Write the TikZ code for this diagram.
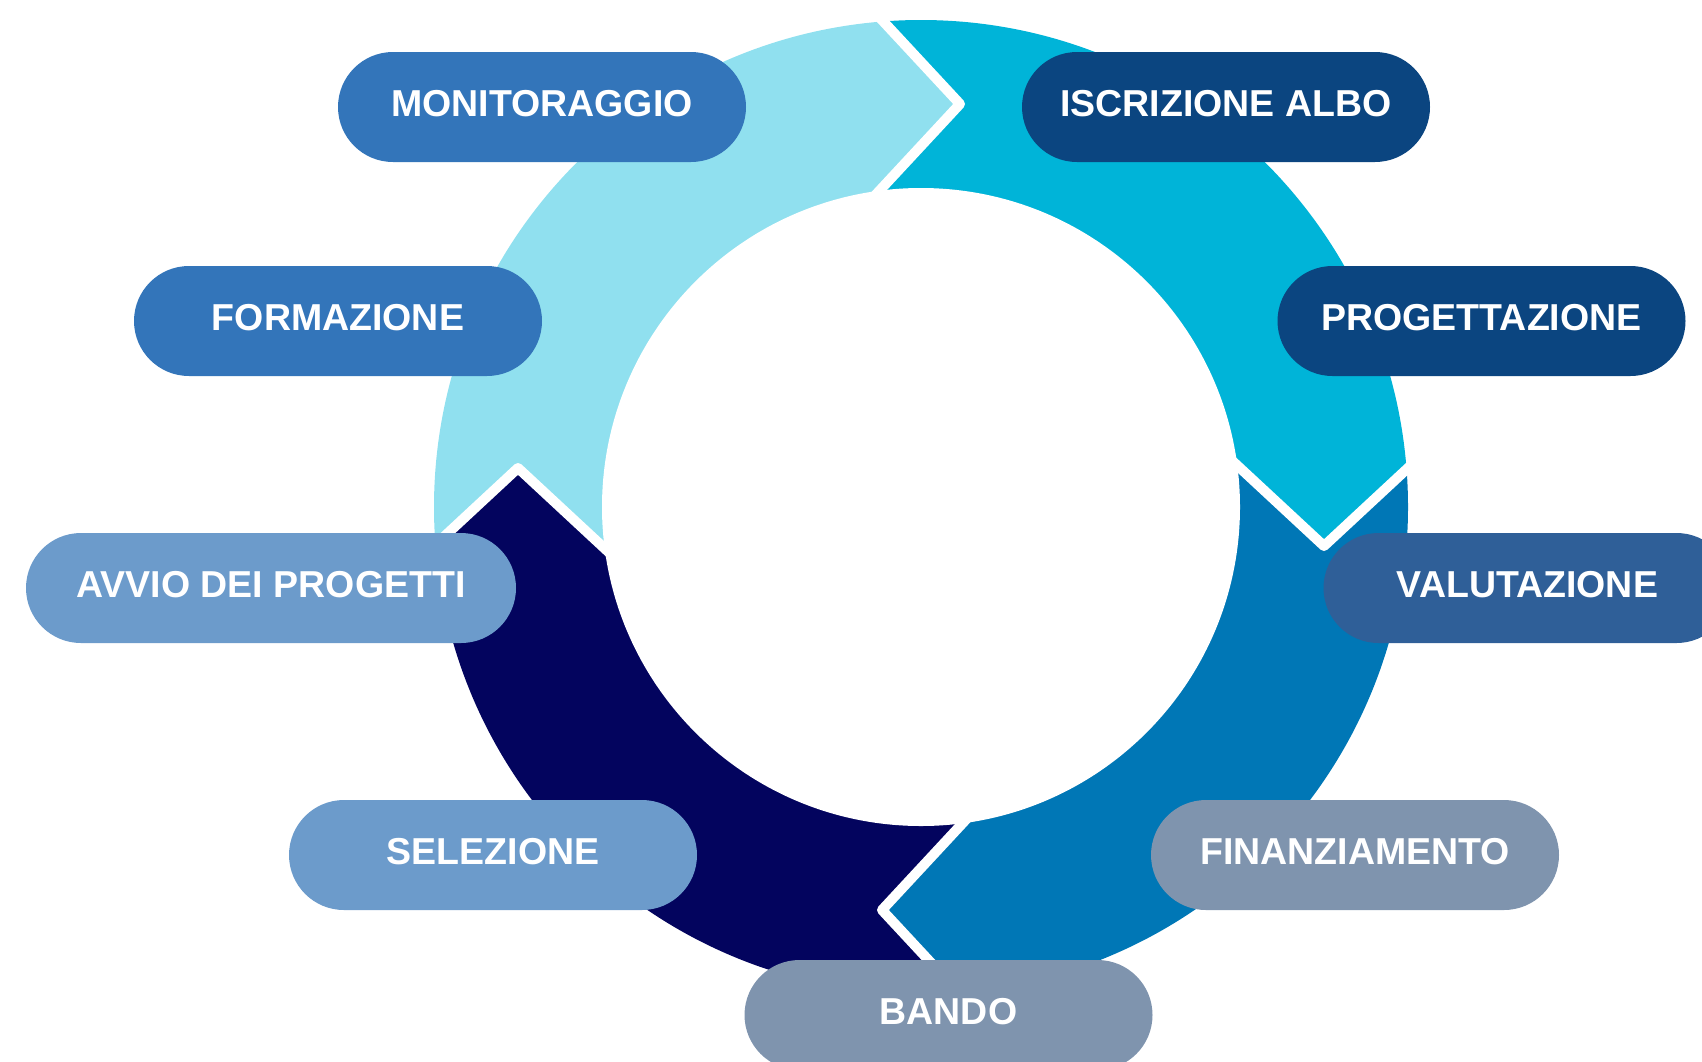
\documentclass[tikz,border=0pt]{standalone}
\usepackage{fontspec}
\setmainfont{Liberation Sans}
\usetikzlibrary{shapes.misc}
\definecolor{segA}{HTML}{90E0EF}
\definecolor{segB}{HTML}{00B4D8}
\definecolor{segC}{HTML}{0077B6}
\definecolor{segD}{HTML}{03045E}
\definecolor{pillMid}{HTML}{3375BA}
\definecolor{pillDark}{HTML}{0B4580}
\definecolor{pillVal}{HTML}{2F5F98}
\definecolor{pillLight}{HTML}{6C9BCB}
\definecolor{pillGrey}{HTML}{7F94AE}
\begin{document}
\begin{tikzpicture}[x=1pt,y=-1pt,
  pill/.style={rounded rectangle, minimum width=408pt, minimum height=110pt,
    inner sep=0pt, text=white, font=\fontsize{37.5}{42}\selectfont\bfseries,
    text height=18pt, text depth=0pt},
  gap/.style={draw=white, line width=10pt, line join=round}]
\useasboundingbox (0,0) rectangle (1702,1061);
\clip (0,0) rectangle (1702,1061);
\coordinate (C) at (921,507);
% top boundary
\coordinate (tipT) at (960,104);
\coordinate (outT) at (777,-93);
\coordinate (inT) at (771.5,307);
% right boundary
\coordinate (tipR) at (1324,546);
\coordinate (outR) at (1521,363);
\coordinate (inR) at (1121,357.5);
% bottom boundary
\coordinate (tipB) at (882,910);
\coordinate (outB) at (1065,1107);
\coordinate (inB) at (1070.5,707);
% left boundary
\coordinate (tipL) at (518,468);
\coordinate (outL) at (321,651);
\coordinate (inL) at (721,656.5);
% far corners
\coordinate (cTR) at (1522,-94);
\coordinate (cRB) at (1522,1108);
\coordinate (cBL) at (320,1108);
\coordinate (cLT) at (320,-94);
\begin{scope}
\clip (C) circle (487pt);
\fill[segB] (inT) -- (tipT) -- (outT) -- (cTR) -- (outR) -- (tipR) -- (inR) -- (C) -- cycle;
\fill[segC] (inR) -- (tipR) -- (outR) -- (cRB) -- (outB) -- (tipB) -- (inB) -- (C) -- cycle;
\fill[segD] (inB) -- (tipB) -- (outB) -- (cBL) -- (outL) -- (tipL) -- (inL) -- (C) -- cycle;
\fill[segA] (inL) -- (tipL) -- (outL) -- (cLT) -- (outT) -- (tipT) -- (inT) -- (C) -- cycle;
\end{scope}
\fill[white] (C) circle (319pt);
\draw[gap] (outT) -- (tipT) -- (inT);
\draw[gap] (outR) -- (tipR) -- (inR);
\draw[gap] (outB) -- (tipB) -- (inB);
\draw[gap] (outL) -- (tipL) -- (inL);
% pills
\node[pill, fill=pillMid] (mon) at (542,107) {MONITORAGGIO};
\node[pill, fill=pillDark] (isc) at (1226,107) {ISCRIZIONE ALBO};
\node[pill, fill=pillMid] (for) at (338,321) {FORMAZIONE};
\node[pill, fill=pillDark] (pro) at (1481.5,321) {PROGETTAZIONE};
\node[pill, fill=pillLight, minimum width=490pt] (avv) at (271,588) {AVVIO DEI PROGETTI};
\node[pill, fill=pillVal] (val) at (1527.5,588) {VALUTAZIONE};
\node[pill, fill=pillLight] (sel) at (493,855) {SELEZIONE};
\node[pill, fill=pillGrey] (fin) at (1355,855) {FINANZIAMENTO};
\node[pill, fill=pillGrey] (ban) at (948.5,1015) {BANDO};
\end{tikzpicture}
\end{document}
